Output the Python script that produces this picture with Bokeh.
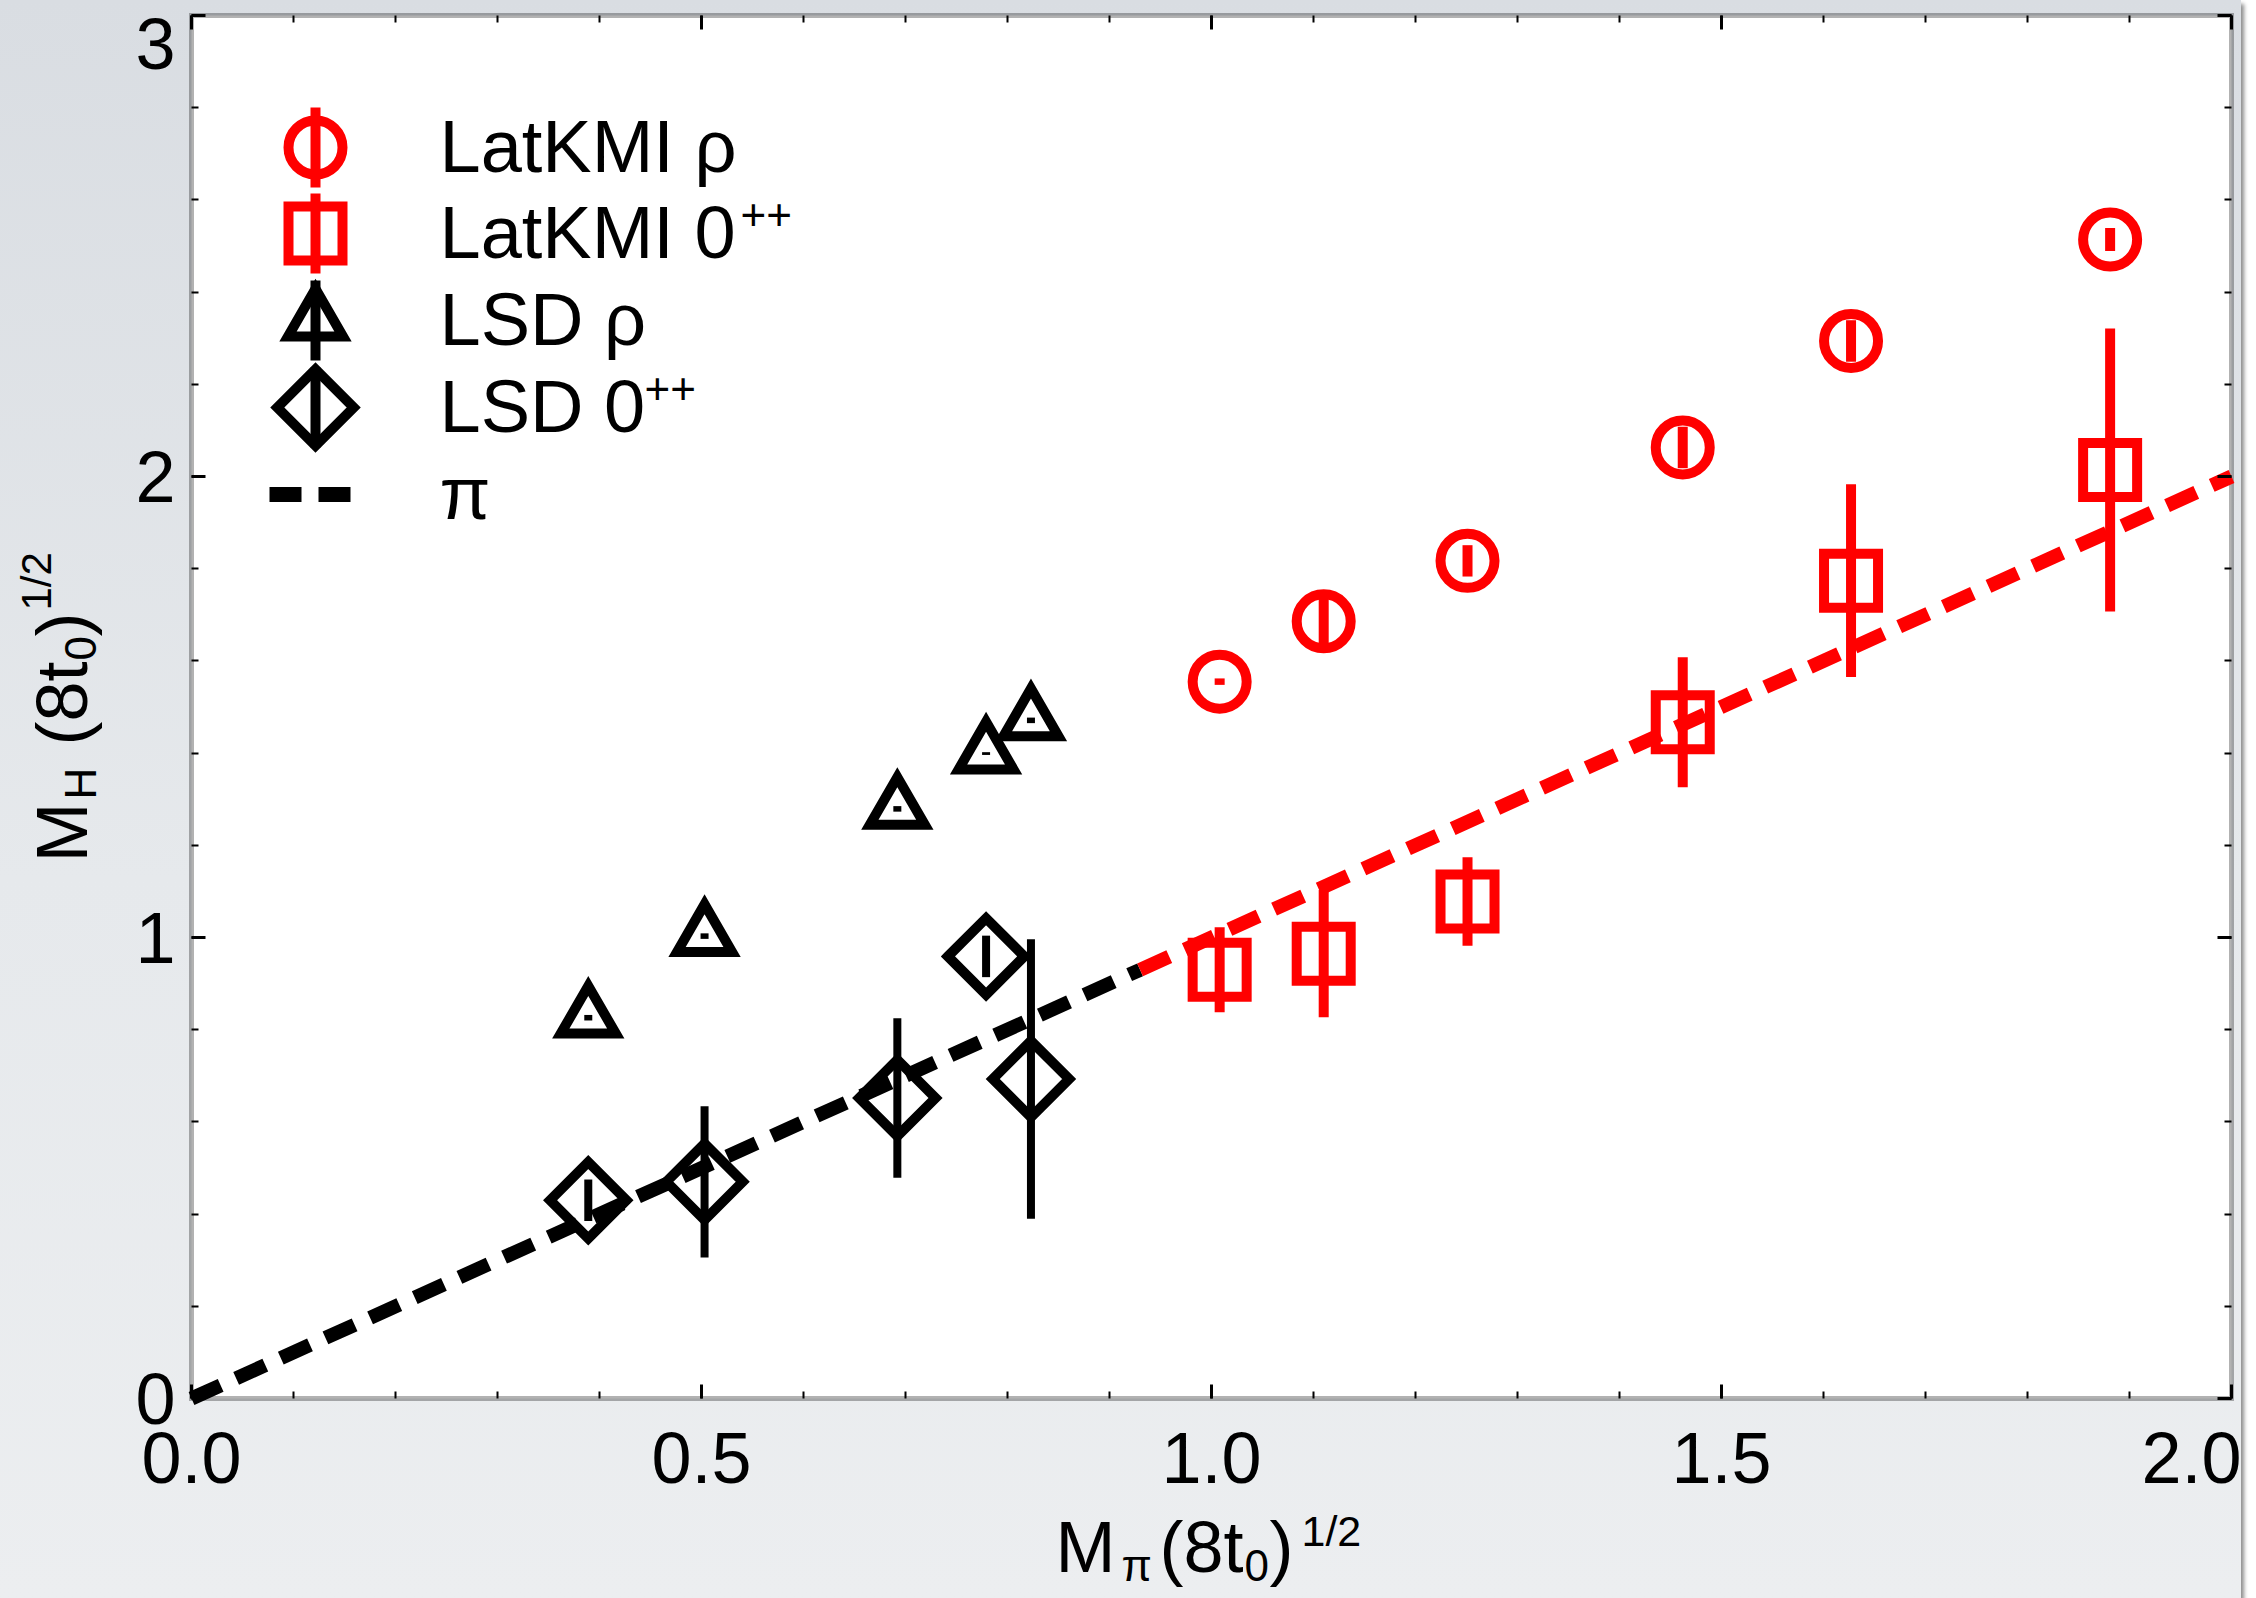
import numpy as np
from bokeh.plotting import figure
from bokeh.models import (Range1d, LinearAxis, SingleIntervalTicker, NumeralTickFormatter,
                          CustomJSTickFormatter, Label, ColumnDataSource, BoxAnnotation)
from bokeh.embed import file_html
from bokeh.resources import INLINE

# ---------------- data ----------------
latkmi_x = [1.008, 1.110, 1.251, 1.462, 1.627, 1.881]
latkmi_rho_y = [1.555, 1.686, 1.817, 2.063, 2.294, 2.514]
latkmi_rho_err = [0.007, 0.050, 0.034, 0.045, 0.045, 0.025]
latkmi_0pp_y = [0.930, 0.965, 1.078, 1.467, 1.774, 2.014]
latkmi_0pp_err = [0.092, 0.138, 0.096, 0.141, 0.209, 0.307]

lsd_x = [0.389, 0.503, 0.692, 0.779, 0.823]
lsd_rho_y = [0.826, 1.003, 1.279, 1.399, 1.471]
lsd_rho_err = [0.006, 0.006, 0.006, 0.003, 0.006]
lsd_0pp_y = [0.430, 0.470, 0.652, 0.959, 0.693]
lsd_0pp_err = [0.045, 0.164, 0.173, 0.045, 0.303]

pion_lsd_x = [0.0, 0.93]
pion_latkmi_x = [0.93, 2.0]

x_ticks_label_format = "0.0"
y_ticks_label_format = "0"

# ---------------- layout ----------------
FONT = "Liberation Sans"
W, H = 2241, 1598
FL, FR, FT, FB = 191, 2231, 15, 1398        # plot box in canvas pixels
XMAX, YMAX = 2.0, 3.0
PPX = (FR - FL) / XMAX
PPY = (FB - FT) / YMAX

p = figure(width=W, height=H,
           x_range=Range1d(-FL / PPX, XMAX + (W - FR) / PPX),
           y_range=Range1d(-(H - FB) / PPY, YMAX + FT / PPY),
           output_backend="svg", toolbar_location=None, tools="",
           min_border=0, x_axis_type=None, y_axis_type=None)
p.xgrid.visible = False
p.ygrid.visible = False
p.background_fill_alpha = 0.0
p.border_fill_alpha = 0.0
p.outline_line_color = None
p.styles = {"background": "linear-gradient(to bottom, #d9dde2 0%, #e6e9ec 55%, #eceef0 100%)",
            "box-shadow": "3px 4px 4px rgba(0,0,0,0.45)"}

# white plot box with heavy black frame
p.add_layout(BoxAnnotation(left=0, right=XMAX, bottom=0, top=YMAX, fill_color="white",
                           fill_alpha=1.0, line_color="black", line_width=5,
                           line_join="miter", level="underlay"))


def style_axis(ax):
    ax.axis_line_color = None
    ax.major_tick_in = 14
    ax.major_tick_out = 0
    ax.minor_tick_in = 7
    ax.minor_tick_out = 0
    ax.major_tick_line_width = 3
    ax.minor_tick_line_width = 2
    ax.major_tick_line_color = "black"
    ax.minor_tick_line_color = "black"
    ax.major_label_text_font = FONT
    ax.major_label_text_font_size = "72px"
    ax.major_label_text_color = "black"


xt = SingleIntervalTicker(interval=0.5, num_minor_ticks=5)
yt = SingleIntervalTicker(interval=1, num_minor_ticks=5)
blank = CustomJSTickFormatter(code="return ''")

xb = LinearAxis(ticker=xt, formatter=NumeralTickFormatter(format=x_ticks_label_format),
                fixed_location=0, bounds=(0, XMAX))
style_axis(xb)
xb.major_label_standoff = 34
p.add_layout(xb, "below")

yl = LinearAxis(ticker=yt, formatter=NumeralTickFormatter(format=y_ticks_label_format),
                fixed_location=0, bounds=(0, YMAX))
style_axis(yl)
yl.major_label_standoff = 16
yl.major_label_overrides = {3: ""}
p.add_layout(yl, "left")

xa = LinearAxis(ticker=xt, formatter=blank, fixed_location=YMAX, bounds=(0, XMAX))
yr = LinearAxis(ticker=yt, formatter=blank, fixed_location=XMAX, bounds=(0, YMAX))
for ax, loc in ((xa, "above"), (yr, "right")):
    style_axis(ax)
    ax.major_label_text_font_size = "1px"
    ax.major_label_standoff = 0
    p.add_layout(ax, loc)

# ---------------- pion line y = x ----------------
DASH = "32 17"
p.line(pion_lsd_x, pion_lsd_x, line_color="black", line_width=14, line_dash=DASH)
p.line(pion_latkmi_x, pion_latkmi_x, line_color="red", line_width=14, line_dash=DASH)


# ---------------- data series ----------------
def series(xs, ys, errs, color, marker, size, bar_w, angle=0.0):
    src = ColumnDataSource(dict(x=xs, y=ys,
                                lo=[y - e for y, e in zip(ys, errs)],
                                hi=[y + e for y, e in zip(ys, errs)]))
    p.segment(x0="x", y0="lo", x1="x", y1="hi", source=src, line_color=color,
              line_width=bar_w)
    p.scatter(x="x", y="y", source=src, marker=marker, size=size, angle=angle,
              fill_color=None, line_color=color, line_width=10, line_join="miter")


series(latkmi_x, latkmi_rho_y, latkmi_rho_err, "red", "circle", 54, 10)
series(latkmi_x, latkmi_0pp_y, latkmi_0pp_err, "red", "square", 54, 10)
series(lsd_x, lsd_rho_y, lsd_rho_err, "black", "triangle", 55, 8)
series(lsd_x, lsd_0pp_y, lsd_0pp_err, "black", "square", 54, 8, angle=np.pi / 4)

# ---------------- text helpers (canvas pixel positions of the baseline) ----------------
BASE_SHIFT = 0.39   # correction for where the renderer puts an alphabetic baseline


def clabel(text, cx, cy, size, angle=0, align="left"):
    k = BASE_SHIFT * size
    if angle == 0:
        sx, sy = cx, H - (cy - k)
    else:
        sx, sy = cx - k, H - cy
    p.add_layout(Label(x=sx, y=sy, x_units="screen", y_units="screen",
                       text=text, text_font=FONT, text_font_size=f"{size}px",
                       text_color="black", text_align=align, text_baseline="alphabetic",
                       angle=angle, angle_units="deg"))


def dx(px):
    return (px - FL) / PPX


def dy(py):
    return (FB - py) / PPY


# top y tick label (kept inside the picture as in the original)
clabel("3", 175, 72, 72, align="right")

# ---------------- legend ----------------
leg_names = ["LatKMI ρ", "LatKMI 0", "LSD ρ", "LSD 0", "π"]
leg_colors = ["red", "red", "black", "black"]
leg_markers = ["circle", "square", "triangle", "square"]
leg_angles = [0.0, 0.0, 0.0, np.pi / 4]
leg_sizes = [54, 54, 55, 54]
LEG_MX = 315
LEG_ROWS = [147, 233, 320, 407, 494]
LEG_TX = 439
LEG_BASE_OFF = 28
for i in range(4):
    yc = LEG_ROWS[i]
    p.segment(x0=[dx(LEG_MX)], y0=[dy(yc + 40)], x1=[dx(LEG_MX)], y1=[dy(yc - 40)],
              line_color=leg_colors[i], line_width=10)
    p.scatter(x=[dx(LEG_MX)], y=[dy(yc)], marker=leg_markers[i], size=leg_sizes[i],
              angle=leg_angles[i], fill_color=None, line_color=leg_colors[i],
              line_width=10, line_join="miter")
p.line([dx(269), dx(350)], [dy(LEG_ROWS[4]), dy(LEG_ROWS[4])], line_color="black",
       line_width=15, line_dash=DASH)
for i, name in enumerate(leg_names):
    clabel(name, LEG_TX, LEG_ROWS[i] + LEG_BASE_OFF, 74)
clabel("++", 740, LEG_ROWS[1] + LEG_BASE_OFF - 30, 44)
clabel("++", 644, LEG_ROWS[3] + LEG_BASE_OFF - 30, 44)

# ---------------- axis titles ----------------
# x: M_pi (8t_0)^{1/2}
clabel("M", 1055, 1575, 72)
clabel("π", 1121, 1582, 44)
clabel("(8t", 1159, 1575, 72)
clabel("0", 1244, 1582, 44)
clabel(")", 1269, 1575, 72)
clabel("1/2", 1301, 1547, 43)
# y: M_H (8t_0)^{1/2}, rotated
clabel("M", 90, 862, 72, angle=90)
clabel("H", 97, 799, 44, angle=90)
clabel("(8t", 90, 745, 72, angle=90)
clabel("0", 97, 660, 44, angle=90)
clabel(")", 90, 636, 72, angle=90)
clabel("1/2", 52, 610, 42, angle=90)

open("out.html", "w").write(file_html(p, INLINE))
